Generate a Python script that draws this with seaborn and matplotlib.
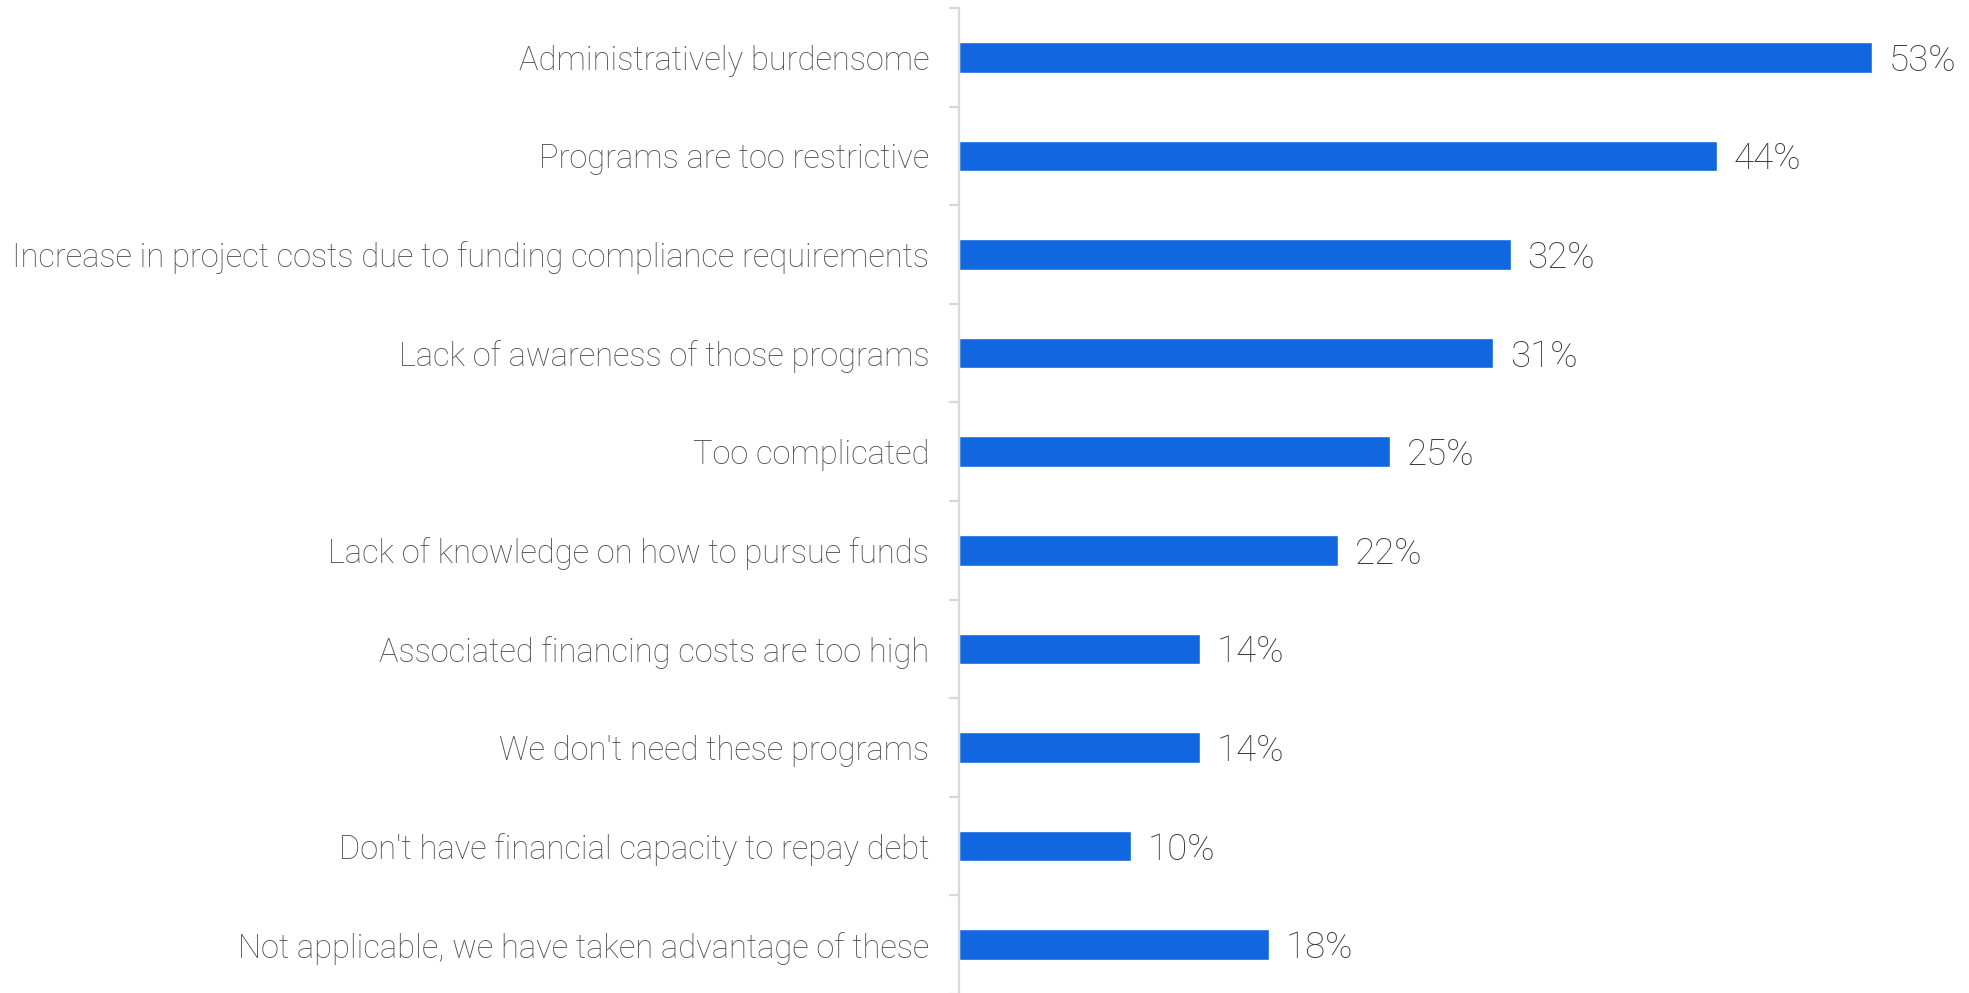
import pandas as pd
import seaborn as sns
import matplotlib.pyplot as plt
from matplotlib.ticker import FixedLocator

# Data
reasons = [
    "Administratively burdensome",
    "Programs are too restrictive",
    "Increase in project costs due to funding compliance requirements",
    "Lack of awareness of those programs",
    "Too complicated",
    "Lack of knowledge on how to pursue funds",
    "Associated financing costs are too high",
    "We don't need these programs",
    "Don't have financial capacity to repay debt",
    "Not applicable, we have taken advantage of these",
]
shares = [53, 44, 32, 31, 25, 22, 14, 14, 10, 18]

df = pd.DataFrame({"reason": reasons, "share": shares})

sns.set_style("white")
plt.rcParams["font.family"] = ["Roboto", "DejaVu Sans"]

fig = plt.figure(figsize=(19.69, 9.93), dpi=100)
ax = fig.add_axes([959 / 1969, -0.001, 1 - 959 / 1969, 0.993])

sns.barplot(data=df, x="share", y="reason", orient="h", color="#1167e0",
            saturation=1, width=0.31, ax=ax)

ax.set_xlim(0, 58.6)
ax.set_ylim(len(reasons) - 0.5, -0.5)
ax.set_xlabel("")
ax.set_ylabel("")
ax.set_xticks([])

for s in ["top", "right", "bottom"]:
    ax.spines[s].set_visible(False)
ax.spines["left"].set_color("#d9d9d9")
ax.spines["left"].set_linewidth(1.6)

ax.tick_params(axis="y", which="major", left=False, length=0, pad=21.5,
               labelsize=23.5, labelcolor="#4d4d4d")
ax.yaxis.set_minor_locator(FixedLocator([i - 0.5 for i in range(len(reasons) + 1)]))
ax.tick_params(axis="y", which="minor", left=True, length=7, width=1.6, color="#d9d9d9")
for lbl in ax.get_yticklabels():
    lbl.set_fontweight("light")

for c in ax.containers:
    anns = ax.bar_label(c, labels=[f"{v}%" for v in shares], padding=12,
                        fontsize=26.5, color="#3a3a3a", fontweight="light")
    # nudge value labels down a touch to sit level with the bar centre
    for a in anns:
        a.xyann = (12, -2.5)

fig.savefig("out.png", dpi=100)
